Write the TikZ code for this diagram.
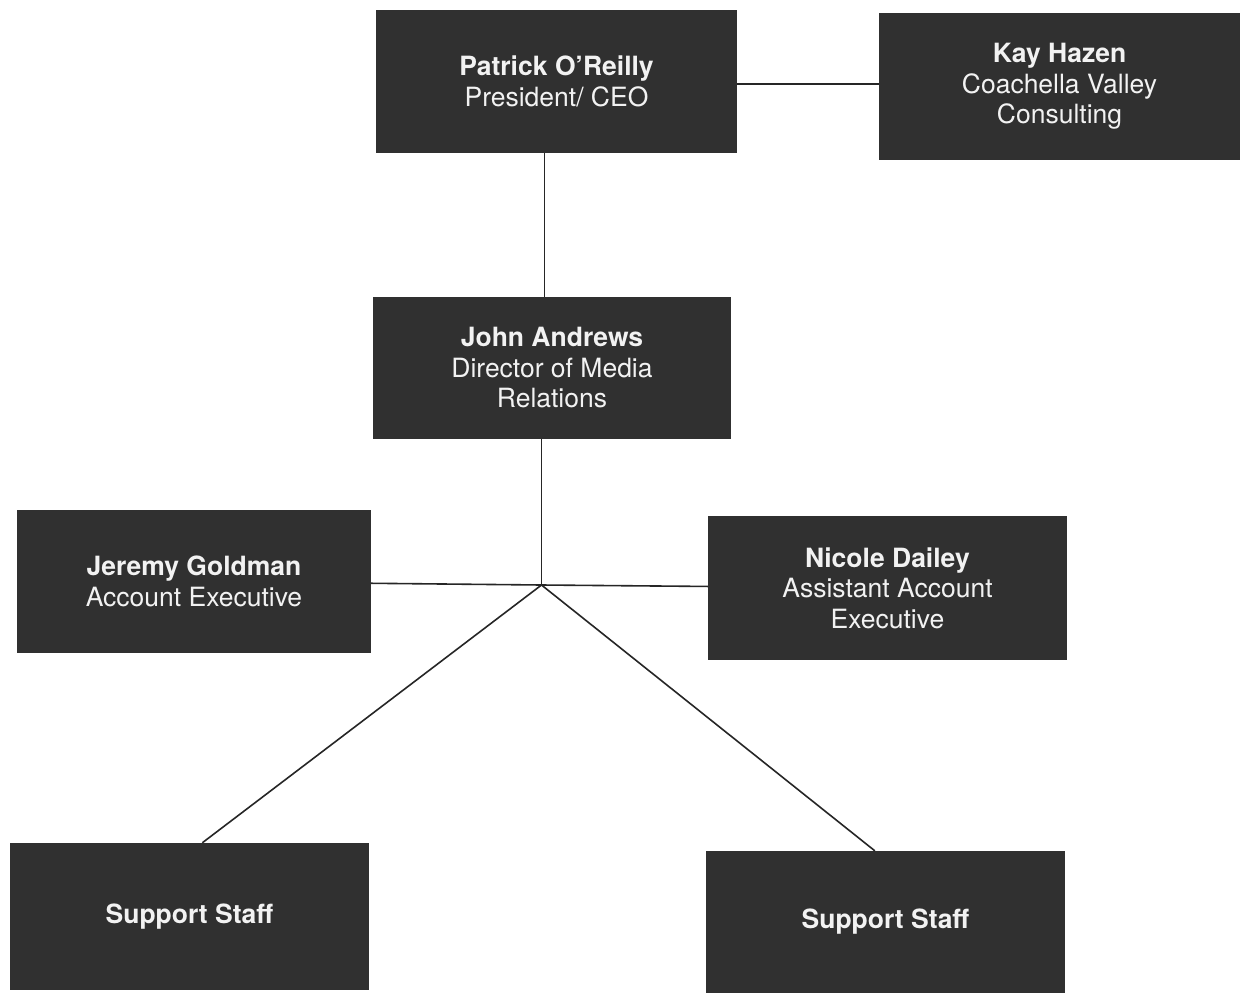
\documentclass[tikz,border=0pt]{standalone}
\usepackage{fontspec}
\setmainfont{TeX Gyre Heros}
\usetikzlibrary{calc}
\definecolor{boxfill}{HTML}{303030}
\definecolor{boxtext}{HTML}{F2F2F2}
\definecolor{linecol}{HTML}{262626}
\begin{document}
\begin{tikzpicture}[x=1pt,y=-1pt,
  orgbox/.style={fill=boxfill, draw=none, text=boxtext, align=center, inner sep=0pt,
    font=\fontsize{26.5}{30.5}\selectfont},
  link/.style={draw=linecol, line width=1.6pt}]
\useasboundingbox[fill=white] (0,0) rectangle (1242,993);

\node[orgbox, minimum width=361pt, minimum height=143pt] (ceo) at (556.5,81.5)
  {\textbf{Patrick O'Reilly}\\President/ CEO};
\node[orgbox, minimum width=361pt, minimum height=147pt] (kay) at (1059.5,86.5)
  {\textbf{Kay Hazen}\\Coachella Valley\\Consulting};
\node[orgbox, minimum width=358pt, minimum height=142pt] (john) at (552,368)
  {\textbf{John Andrews}\\Director of Media\\Relations};
\node[orgbox, minimum width=354pt, minimum height=143pt] (jeremy) at (194,581.5)
  {\textbf{Jeremy Goldman}\\Account Executive};
\node[orgbox, minimum width=359pt, minimum height=144pt] (nicole) at (887.5,588)
  {\textbf{Nicole Dailey}\\Assistant Account\\Executive};
\node[orgbox, minimum width=359pt, minimum height=147pt] (suppl) at (189.5,916.5)
  {\textbf{Support Staff}};
\node[orgbox, minimum width=359pt, minimum height=142pt] (suppr) at (885.5,922)
  {\textbf{Support Staff}};

\coordinate (hub) at (541.5,585);
\coordinate (topx) at (544.5,0);
\coordinate (midy) at (0,84);

\draw[link] (ceo.east |- midy) -- (kay.west |- midy);
\draw[link] (ceo.south -| topx) -- (john.north -| topx);
\draw[link] (john.south -| hub) -- (hub);
\draw[link] (hub) -- (jeremy);
\draw[link] (hub) -- (nicole);
\draw[link] (hub) -- ([xshift=192.5pt]suppl.north west);
\draw[link] (hub) -- ([xshift=169pt]suppr.north west);
\end{tikzpicture}
\end{document}
